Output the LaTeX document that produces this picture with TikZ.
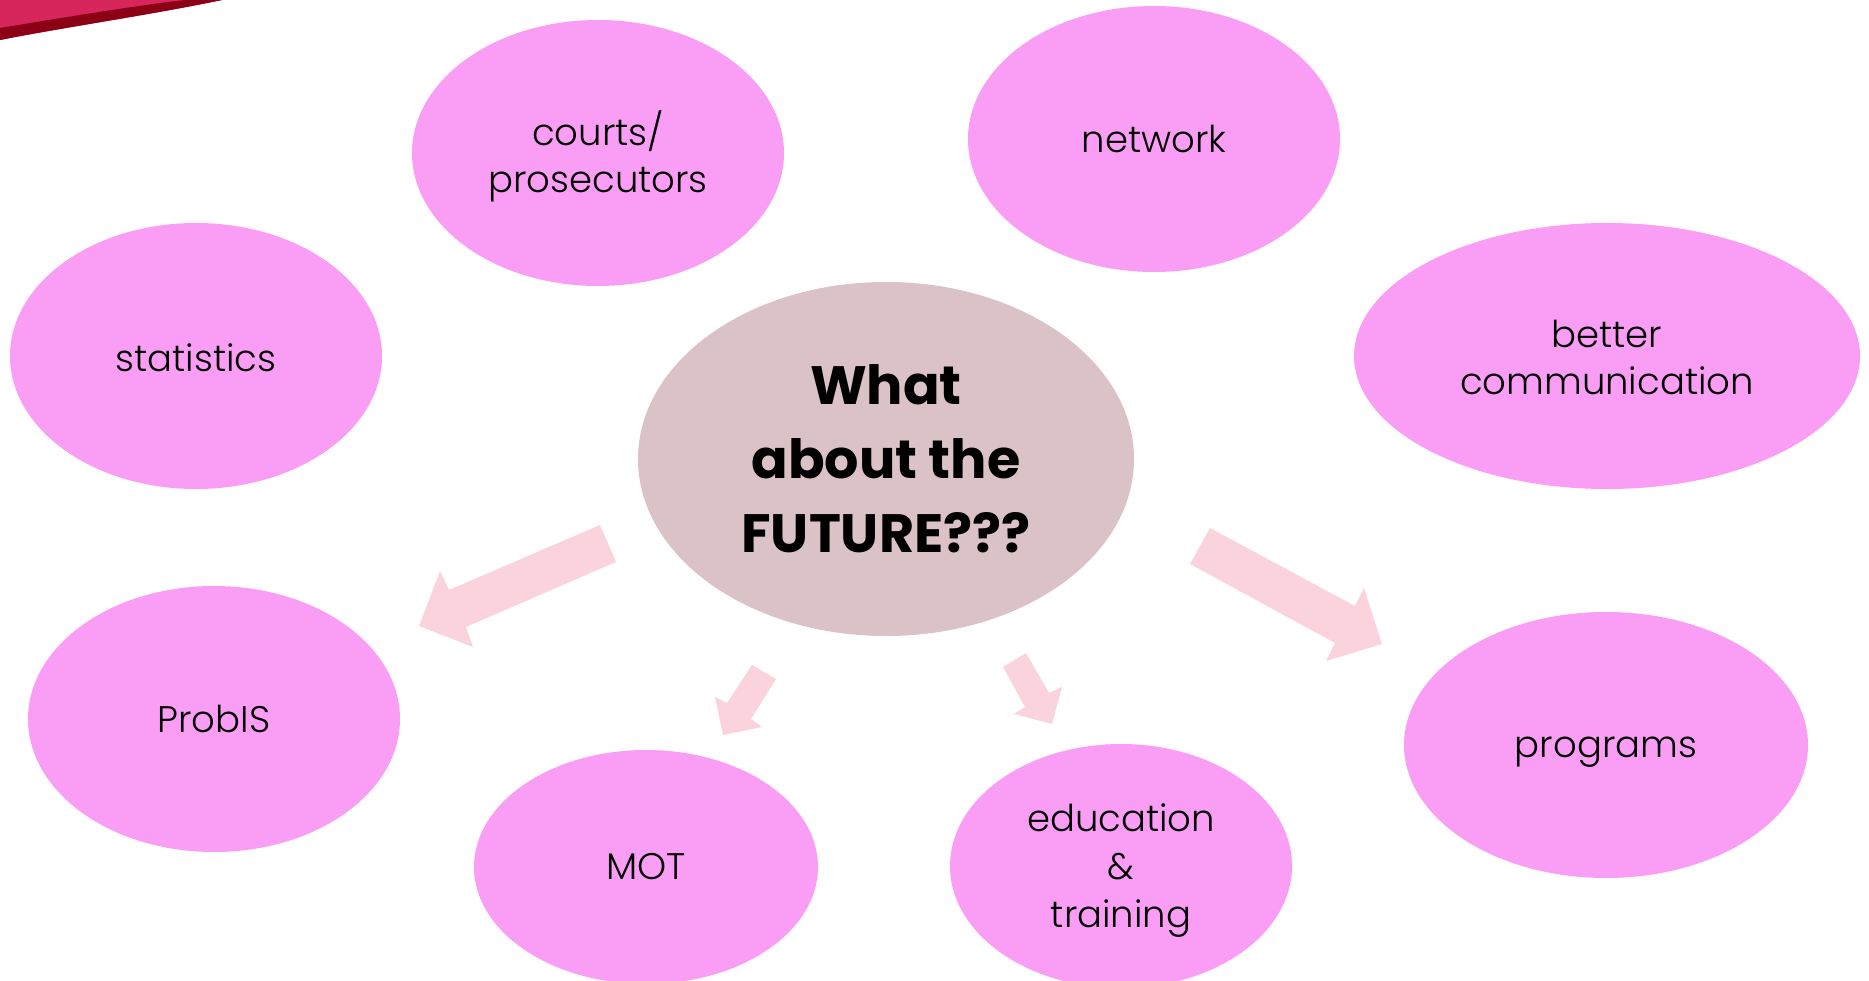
\documentclass[tikz,border=0pt]{standalone}
\usepackage{fontspec}
\setmainfont{Poppins}
\newfontfamily\labelfont{Poppins Light}
\usetikzlibrary{shapes.geometric}
\definecolor{bubble}{RGB}{250,158,245}
\definecolor{hub}{RGB}{219,194,199}
\definecolor{arrowpink}{RGB}{250,211,221}
\definecolor{swooshpink}{RGB}{214,38,92}
\definecolor{swooshdark}{RGB}{140,0,22}
\tikzset{
  bubblenode/.style={ellipse, fill=bubble, draw=none, inner sep=0pt},
  labeltext/.style={inner sep=0pt, align=center, font=\labelfont\fontsize{37}{46}\selectfont},
  hubnode/.style={ellipse, fill=hub, draw=none, inner sep=0pt, align=center,
    font=\fontsize{54}{74}\selectfont\bfseries},
  blockarrow/.style={fill=arrowpink, draw=none},
}
\begin{document}
\begin{tikzpicture}[x=1pt,y=-1pt]
\useasboundingbox (0,0) rectangle (1869,981);
\fill[white] (0,0) rectangle (1869,981);
% swoosh
\fill[swooshpink] (0,0) -- (222,0) .. controls (150,15) and (60,28) .. (0,40) -- cycle;
\fill[swooshdark] (222,0) .. controls (150,15) and (60,28) .. (0,40) -- (0,28) .. controls (60,18) and (140,5) .. (185,0) -- cycle;
% bubbles
\node[bubblenode, minimum width=372pt, minimum height=266pt] (courts) at (598,153) {};
\node[labeltext, font=\labelfont\fontsize{37}{47}\selectfont] (courts-t) at ([yshift=-3pt]courts.center) {courts/\\prosecutors};
\node[bubblenode, minimum width=372pt, minimum height=266pt] (network) at (1154,139) {};
\node[labeltext] (network-t) at (network.center) {network};
\node[bubblenode, minimum width=372pt, minimum height=266pt] (stats) at (196,356) {};
\node[labeltext] (stats-t) at ([yshift=-2pt]stats.center) {statistics};
\node[bubblenode, minimum width=506pt, minimum height=266pt] (comm) at (1607,356) {};
\node[labeltext, font=\labelfont\fontsize{37}{47}\selectfont] (comm-t) at ([yshift=-1pt]comm.center) {better\\communication};
\node[hubnode, minimum width=496pt, minimum height=354pt] (hub) at (886,459) {What\\about the\\FUTURE???};
\node[bubblenode, minimum width=372pt, minimum height=266pt] (probis) at (214,719) {};
\node[labeltext] (probis-t) at (probis.center) {ProbIS};
\node[bubblenode, minimum width=344pt, minimum height=234pt] (mot) at (646,867) {};
\node[labeltext] (mot-t) at (mot.center) {MOT};
\node[bubblenode, minimum width=342pt, minimum height=244pt] (edu) at (1121,866) {};
\node[labeltext, font=\labelfont\fontsize{37}{48}\selectfont] (edu-t) at ([yshift=-5pt]edu.center) {education\\\&\\training};
\node[bubblenode, minimum width=404pt, minimum height=266pt] (programs) at (1606,745) {};
\node[labeltext] (programs-t) at ([yshift=-7pt]programs.center) {programs};
% block arrows
\fill[blockarrow] (600,525) -- (616,562) -- (466,627) -- (473,647) -- (419,626) -- (440,571) -- (449,590) -- cycle;
\fill[blockarrow] (752,665) -- (776,679) -- (751,719) -- (762,727) -- (723,735) -- (715,697) -- (727,703) -- cycle;
\fill[blockarrow] (1003,667) -- (1026,653) -- (1049,693) -- (1062,687) -- (1052,724) -- (1014,714) -- (1025,707) -- cycle;
\fill[blockarrow] (1210,528) -- (1355,606) -- (1364,588) -- (1382,644) -- (1326,661) -- (1335,643) -- (1190,564) -- cycle;
\end{tikzpicture}
\end{document}
